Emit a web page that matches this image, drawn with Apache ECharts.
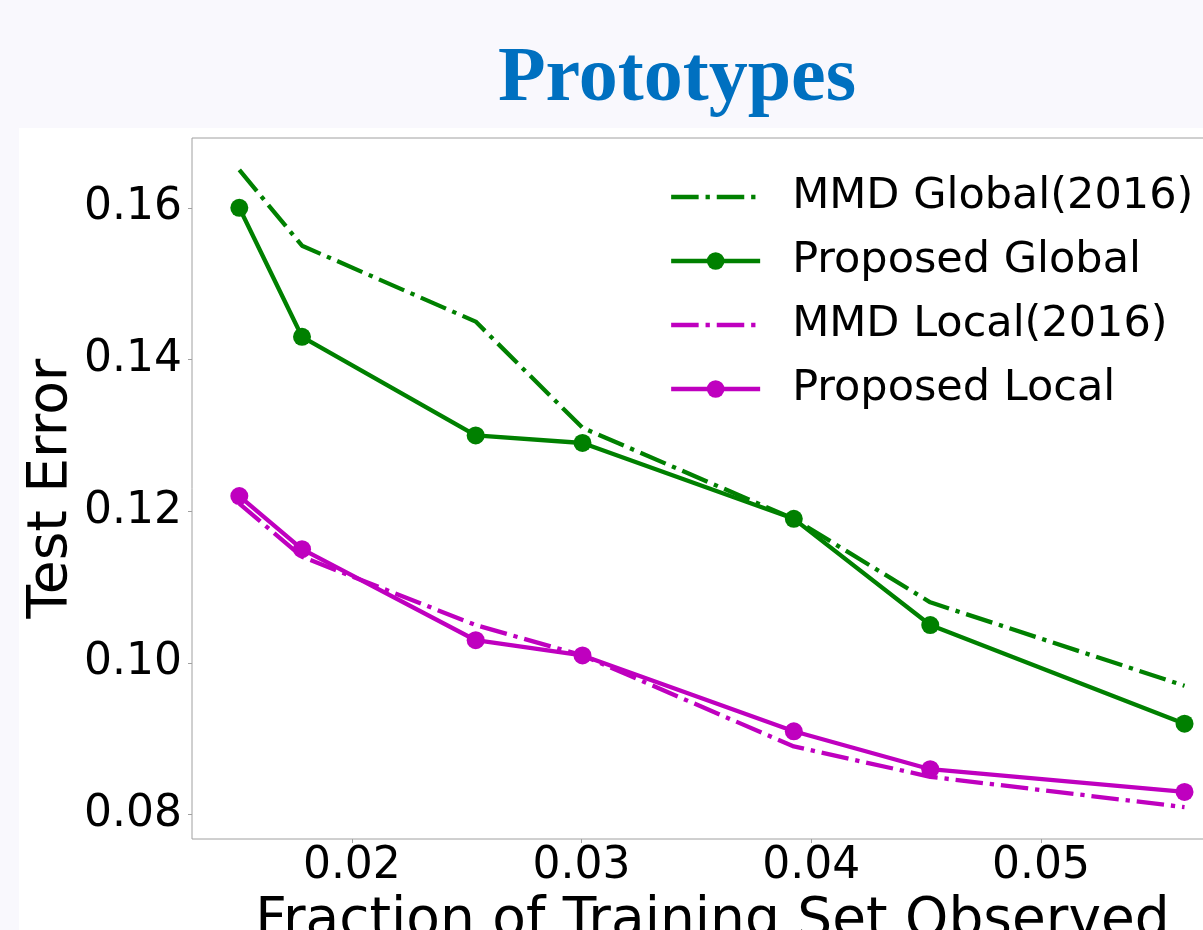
<!DOCTYPE html>
<html>
<head>
<meta charset="utf-8">
<script src="https://cdn.jsdelivr.net/npm/echarts@6/dist/echarts.min.js"></script>
<style>
html,body{margin:0;padding:0;background:#f9f8fd;}
#c{width:1203px;height:930px;}
</style>
</head>
<body>
<div id="c"></div>
<script>
// ---- data ----
const fraction = [0.0151, 0.01783, 0.02539, 0.03004, 0.03924, 0.04518, 0.05625];
const mmdGlobal = [0.165, 0.155, 0.145, 0.131, 0.119, 0.108, 0.097];
const proposedGlobal = [0.160, 0.143, 0.130, 0.129, 0.119, 0.105, 0.092];
const mmdLocal = [0.121, 0.114, 0.105, 0.101, 0.089, 0.085, 0.081];
const proposedLocal = [0.122, 0.115, 0.103, 0.101, 0.091, 0.086, 0.083];
const xTicks = [0.02, 0.03, 0.04, 0.05];
const yTicks = [0.08, 0.10, 0.12, 0.14, 0.16];
const seriesNames = ['MMD Global(2016)', 'Proposed Global', 'MMD Local(2016)', 'Proposed Local'];

const GREEN = '#008000', MAGENTA = '#bf00bf';
const LW = 4.3;
const DASHDOT = [27.5, 6.9, 4.3, 6.9];
const FONT = 'DejaVu Sans';

function pairs(ys){ return fraction.map((x,i)=>[x, ys[i]]); }

const chart = echarts.init(document.getElementById('c'), null, {renderer:'canvas'});
const option = {
  backgroundColor: '#f9f8fd',
  animation: false,
  graphic: [
    {type:'rect', z:-100, silent:true, shape:{x:19, y:128, width:1300, height:900}, style:{fill:'#ffffff'}},
    {type:'text', z:10, silent:true, x:677, y:80, style:{text:'Prototypes', fill:'#0070c0', font:'bold 78px "Liberation Serif"', align:'center', verticalAlign:'middle'}}
  ],
  grid: {left:192, top:138, right:-30, bottom:91, outerBoundsMode:'none', containLabel:false,
         show:true, borderColor:'#a0a0a0', borderWidth:1, backgroundColor:'#ffffff'},
  legend: {
    orient:'vertical', left:669, top:175, padding:0, itemWidth:89, itemHeight:22, itemGap:20,
    data: [
      {name:seriesNames[0], itemStyle:{opacity:0}},
      {name:seriesNames[1]},
      {name:seriesNames[2], itemStyle:{opacity:0}},
      {name:seriesNames[3]}
    ],
    lineStyle:{width:LW},
    textStyle:{fontFamily:FONT, fontSize:43, color:'#000', lineHeight:44, padding:[0,0,0,27]}
  },
  xAxis: {
    type:'value', min:0.01304, max:0.05836,
    name:'Fraction of Training Set Observed', nameLocation:'middle', nameGap:52,
    nameTextStyle:{fontFamily:FONT, fontSize:55, color:'#000'},
    axisLine:{show:false}, splitLine:{show:false},
    axisTick:{show:true, customValues:xTicks, length:4, lineStyle:{color:'#a0a0a0'}},
    axisLabel:{customValues:xTicks, fontFamily:FONT, fontSize:44, color:'#000', margin:6, formatter:v=>v.toFixed(2)}
  },
  yAxis: {
    type:'value', min:0.0768, max:0.1692,
    name:'Test Error', nameLocation:'middle', nameGap:113, nameMoveOverlap:false,
    nameTextStyle:{fontFamily:FONT, fontSize:55, color:'#000'},
    axisLine:{show:false}, splitLine:{show:false},
    axisTick:{show:true, customValues:yTicks, length:4, lineStyle:{color:'#a0a0a0'}},
    axisLabel:{customValues:yTicks, fontFamily:FONT, fontSize:44, color:'#000', margin:10, formatter:v=>v.toFixed(2)}
  },
  series: [
    {name:seriesNames[0], type:'line', data:pairs(mmdGlobal), symbol:'none', z:2,
     lineStyle:{color:GREEN, width:LW, type:DASHDOT, cap:'butt'}, itemStyle:{color:GREEN}},
    {name:seriesNames[1], type:'line', data:pairs(proposedGlobal), symbol:'circle', symbolSize:18, z:3,
     lineStyle:{color:GREEN, width:LW}, itemStyle:{color:GREEN}},
    {name:seriesNames[2], type:'line', data:pairs(mmdLocal), symbol:'none', z:4,
     lineStyle:{color:MAGENTA, width:LW, type:DASHDOT, cap:'butt'}, itemStyle:{color:MAGENTA}},
    {name:seriesNames[3], type:'line', data:pairs(proposedLocal), symbol:'circle', symbolSize:18, z:5,
     lineStyle:{color:MAGENTA, width:LW}, itemStyle:{color:MAGENTA}}
  ]
};
chart.setOption(option);
</script>
</body>
</html>
